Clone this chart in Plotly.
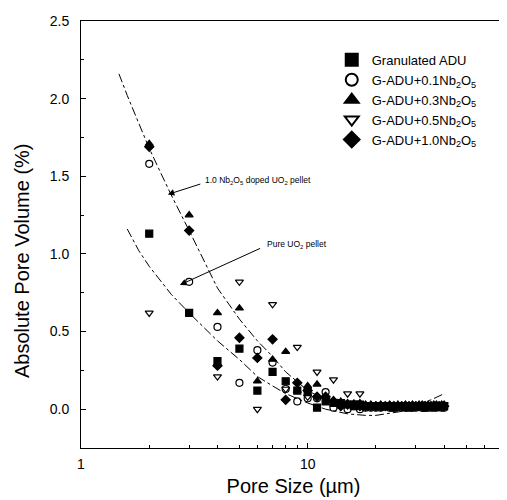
import plotly.graph_objects as go

# ---------------- data ----------------
pore_size = list(range(2, 41))  # um, 2..40

granulated = [1.13, 0.62, 0.31, 0.39, 0.12, 0.24, 0.18, 0.12, 0.11, 0.01,
              0.05, 0.04, 0.03, 0.03, 0.02, 0.03, 0.02, 0.02, 0.02,
              0.02, 0.02, 0.02, 0.01, 0.02, 0.02, 0.02, 0.01, 0.02, 0.02,
              0.02, 0.02, 0.01, 0.02, 0.02, 0.02, 0.02, 0.02, 0.02, 0.02]
nb01 = [1.58, 0.82, 0.53, 0.17, 0.38, 0.30, 0.13, 0.05, 0.07, 0.07,
        0.11, 0.01, 0.03, 0.00, 0.02, 0.00, 0.01, 0.01, 0.01,
        0.01, 0.02, 0.01, 0.01, 0.02, 0.01, 0.01, 0.02, 0.01, 0.01,
        0.02, 0.01, 0.01, 0.02, 0.01, 0.01, 0.01, 0.02, 0.01, 0.01]
nb03 = [1.71, 1.25, 0.62, 0.65, 0.18, 0.32, 0.37, 0.12, 0.15, 0.16,
        0.08, 0.06, 0.05, 0.04, 0.03, 0.04, 0.03, 0.03, 0.02,
        0.03, 0.02, 0.03, 0.02, 0.03, 0.02, 0.03, 0.02, 0.03, 0.02,
        0.03, 0.03, 0.02, 0.03, 0.02, 0.03, 0.03, 0.02, 0.03, 0.03]
nb05 = [0.62, None, 0.21, 0.82, 0.00, 0.675, 0.13, 0.40, 0.08, 0.24,
        0.07, 0.19, 0.05, 0.10, 0.04, 0.10, 0.03, 0.03, 0.02,
        0.02, 0.03, 0.02, 0.02, 0.03, 0.02, 0.02, 0.03, 0.02, 0.02,
        0.03, 0.02, 0.02, 0.03, 0.02, 0.02, 0.03, 0.02, 0.02, 0.03]
nb10 = [1.69, 1.15, 0.28, 0.46, 0.33, 0.45, 0.06, 0.17, 0.12, 0.08,
        0.08, 0.05, 0.02, 0.03, 0.03, 0.02, 0.02, 0.02, 0.02,
        0.02, 0.02, 0.02, 0.02, 0.02, 0.02, 0.02, 0.02, 0.02, 0.02,
        0.02, 0.02, 0.02, 0.02, 0.02, 0.02, 0.02, 0.02, 0.02, 0.02]

# fitted trend curves
fit_doped_x = [1.47, 1.6, 1.8, 2.0, 2.25, 2.5, 3.0, 3.5, 4.0, 5.0, 6.0, 7.0,
               8.0, 10, 12, 15, 20, 25, 30, 35, 40]
fit_doped_y = [2.16, 2.02, 1.84, 1.68, 1.52, 1.38, 1.15, 0.95, 0.78, 0.58,
               0.44, 0.34, 0.24, 0.12, 0.06, 0.02, 0.00, 0.01, 0.03, 0.06, 0.10]
fit_pure_x = [1.6, 1.8, 2.0, 2.5, 3.0, 3.5, 4.0, 5.0, 6.0, 7.0, 8.0, 10, 12,
              15, 18, 20, 25, 30]
fit_pure_y = [1.16, 1.02, 0.92, 0.74, 0.62, 0.52, 0.44, 0.32, 0.21, 0.15,
              0.10, 0.04, 0.00, -0.03, -0.04, -0.04, -0.02, 0.00]

series = [
    ("Granulated ADU", granulated, "square", "black"),
    ("G-ADU+0.1Nb<sub>2</sub>O<sub>5</sub>", nb01, "circle-open", "black"),
    ("G-ADU+0.3Nb<sub>2</sub>O<sub>5</sub>", nb03, "triangle-up", "black"),
    ("G-ADU+0.5Nb<sub>2</sub>O<sub>5</sub>", nb05, "triangle-down-open", "black"),
    ("G-ADU+1.0Nb<sub>2</sub>O<sub>5</sub>", nb10, "diamond", "black"),
]

FONT = "Liberation Sans, Arial, sans-serif"

fig = go.Figure()

fig.add_trace(go.Scatter(x=fit_doped_x, y=fit_doped_y, mode="lines",
                         line=dict(color="black", width=1, dash="dashdot"),
                         showlegend=False, hoverinfo="skip"))
fig.add_trace(go.Scatter(x=fit_pure_x, y=fit_pure_y, mode="lines",
                         line=dict(color="black", width=1, dash="dashdot"),
                         showlegend=False, hoverinfo="skip"))

for name, vals, sym, col in series:
    fig.add_trace(go.Scatter(
        x=pore_size, y=vals, mode="markers", name=name,
        marker=dict(symbol=sym, size=7, color=col,
                    line=dict(color="black", width=1.2))))

# annotations (positions on log axis given as log10 values)
fig.add_annotation(x=0.537, y=1.473, xref="x", yref="y",
                   text="1.0 Nb<sub>2</sub>O<sub>5</sub> doped UO<sub>2</sub> pellet",
                   showarrow=False, xanchor="left", yanchor="middle",
                   font=dict(family=FONT, size=8.5, color="black"))
fig.add_annotation(x=0.383, y=1.383, ax=0.533, ay=1.453,
                   xref="x", yref="y", axref="x", ayref="y", text="",
                   showarrow=True, arrowhead=2, arrowsize=1.3, arrowwidth=1,
                   arrowcolor="black")
fig.add_annotation(x=0.811, y=1.06, xref="x", yref="y",
                   text="Pure UO<sub>2</sub> pellet",
                   showarrow=False, xanchor="left", yanchor="middle",
                   font=dict(family=FONT, size=8.5, color="black"))
fig.add_annotation(x=0.436, y=0.80, ax=0.797, ay=1.04,
                   xref="x", yref="y", axref="x", ayref="y", text="",
                   showarrow=True, arrowhead=2, arrowsize=1.3, arrowwidth=1,
                   arrowcolor="black")

# y-axis title (placed as an annotation to match the reference's offset)
fig.add_annotation(x=-0.139, y=0.44, xref="paper", yref="paper",
                   text="Absolute Pore Volume (%)", textangle=-90,
                   showarrow=False, xanchor="center", yanchor="middle",
                   font=dict(family=FONT, size=20, color="black"))

fig.update_layout(
    width=499, height=492,
    margin=dict(l=73, r=1, t=13, b=52),
    paper_bgcolor="white", plot_bgcolor="white",
    font=dict(family=FONT, color="black"),
    showlegend=True,
    legend=dict(x=0.59, y=0.944, xanchor="left", yanchor="top",
                bgcolor="rgba(0,0,0,0)", font=dict(size=13),
                tracegroupgap=0, itemsizing="constant"),
)

fig.update_xaxes(
    type="log", range=[0, 1.875],
    tickvals=[1, 10, 100], ticktext=["1", "10", "100"],
    ticks="inside", ticklen=5, tickwidth=1, tickcolor="black",
    minor=dict(tickvals=[2, 3, 4, 5, 6, 7, 8, 9, 20, 30, 40, 50, 60, 70, 80, 90],
               ticks="inside", ticklen=3, tickcolor="black"),
    showline=True, linecolor="black", linewidth=1, mirror=True,
    showgrid=False, zeroline=False,
    tickfont=dict(size=14), ticklabelstandoff=3,
    title=dict(text="Pore Size (\u00b5m)", font=dict(size=20), standoff=8),
    automargin=False,
)
fig.update_yaxes(
    range=[-0.25, 2.5],
    tickvals=[0.0, 0.5, 1.0, 1.5, 2.0, 2.5], tickformat=".1f",
    ticks="inside", ticklen=5, tickwidth=1, tickcolor="black",
    minor=dict(tickvals=[0.25, 0.75, 1.25, 1.75, 2.25], ticks="inside",
               ticklen=3, tickcolor="black"),
    showline=True, linecolor="black", linewidth=1, mirror=True,
    showgrid=False, zeroline=False,
    tickfont=dict(size=14), ticklabelstandoff=8,
    automargin=False,
)

fig.write_html("out.html")
